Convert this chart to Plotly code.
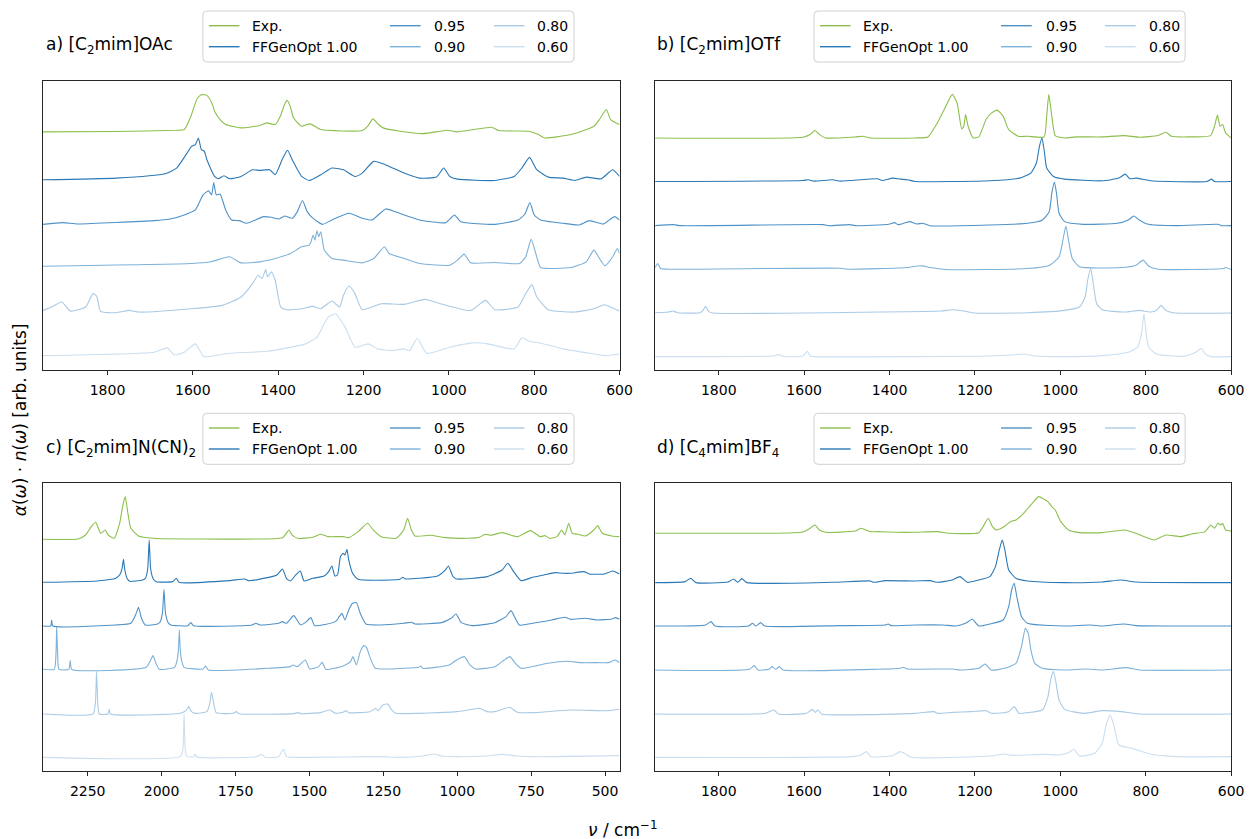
import plotly.graph_objects as go

W, H = 1257, 839
FONT = "DejaVu Sans"

# ---------------- labels / styling ----------------
SERIES_LABELS = ["Exp.", "FFGenOpt 1.00", "0.95", "0.90", "0.80", "0.60"]
SERIES_COLORS = ["#8dbf4c", "#2a78b5", "#4f92c8", "#7db1d8", "#a9cae5", "#cbdff0"]
PANEL_TITLES = ["a) [C<sub>2</sub>mim]OAc", "b) [C<sub>2</sub>mim]OTf",
                "c) [C<sub>2</sub>mim]N(CN)<sub>2</sub>", "d) [C<sub>4</sub>mim]BF<sub>4</sub>"]
X_TICKS_AB = [1800, 1600, 1400, 1200, 1000, 800, 600]
X_TICKS_C = [2250, 2000, 1750, 1500, 1250, 1000, 750, 500]
X_RANGE_A = [1951, 600]
X_RANGE_B = [1949, 600]
X_RANGE_C = [2401, 451]
X_RANGE_D = [1949, 600]
OFFSETS_A = [711, 568, 435, 311, 178, 43]
OFFSETS_B = [693, 563, 431, 301, 171, 40]
OFFSETS_C = [695, 566, 435, 305, 171, 41]
OFFSETS_D = [713, 565, 435, 303, 171, 41]
Y_RANGE = [0, 863]

# ---------------- panel a: [C2mim]OAc ----------------
A_EXP_NU = [1951, 1780, 1640, 1620, 1605, 1590, 1580, 1567, 1555, 1549, 1535, 1523, 1487, 1443, 1427, 1407, 1395, 1385, 1379, 1372,
            1365, 1358, 1345, 1325, 1300, 1203, 1190, 1178, 1165, 1154, 1114, 1060, 1003, 981, 900, 883, 812, 790, 776, 714,
            660, 647, 631, 621, 600]
A_EXP_I = [0, 1, 5, 7, 45, 99, 111, 109, 85, 62, 35, 22, 12, 19, 27, 22, 47, 82, 94, 77,
           45, 32, 17, 24, 7, 4, 17, 39, 22, 12, 2, -5, 5, 0, 14, 4, 2, -8, -18, -8,
           17, 37, 67, 37, 22]
A_100_NU = [1951, 1780, 1665, 1638, 1616, 1603, 1594, 1587, 1580, 1573, 1567, 1549, 1540, 1527, 1514, 1487, 1460, 1443, 1420, 1407,
            1389, 1378, 1367, 1345, 1327, 1300, 1274, 1247, 1220, 1203, 1176, 1149, 1105, 1069, 1029, 1012, 998, 980, 892, 847,
            829, 811, 794, 767, 732, 705, 678, 643, 616, 600]
A_100_I = [0, 5, 18, 35, 75, 100, 105, 125, 90, 85, 60, 10, 3, 12, 3, 10, 30, 28, 30, 15,
           65, 88, 60, 10, -2, 15, 35, 30, 10, 20, 55, 45, 20, 5, 8, 35, 10, 2, -2, 10,
           35, 67, 30, 8, 5, -2, 8, 3, 30, 10]
A_095_NU = [1951, 1905, 1869, 1691, 1656, 1620, 1594, 1576, 1563, 1556, 1551, 1545, 1536, 1523, 1509, 1491, 1474, 1434, 1416, 1398,
            1385, 1367, 1355, 1343, 1332, 1318, 1296, 1274, 1234, 1203, 1180, 1148, 1127, 1069, 1007, 987, 972, 892, 838, 822,
            810, 800, 785, 732, 696, 670, 638, 612, 600]
A_095_I = [0, 5, 1, 11, 15, 28, 43, 88, 100, 88, 125, 88, 90, 43, 13, 11, 3, 23, 21, 16,
           25, 18, 38, 71, 38, 18, 0, 13, 33, 18, 13, 46, 38, 13, 5, 28, 8, 0, 13, 30,
           65, 28, 13, 3, -2, 11, 1, 23, 13]
A_090_NU = [1951, 1603, 1558, 1514, 1487, 1443, 1407, 1371, 1345, 1327, 1323, 1318, 1314, 1309, 1305, 1300, 1292, 1274, 1247, 1203,
            1176, 1151, 1140, 1105, 1069, 998, 980, 964, 949, 892, 834, 820, 807, 794, 785, 714, 678, 660, 647, 634,
            616, 605, 600]
A_090_I = [-1, 7, 12, 27, 9, 12, 22, 37, 57, 62, 72, 92, 77, 105, 87, 102, 47, 22, 17, 9,
           22, 57, 37, 22, 7, 2, 17, 35, 9, 10, 7, 27, 79, 27, -5, -5, 12, 47, 22, 0,
           27, 52, 37]
A_080_NU = [1951, 1931, 1907, 1887, 1851, 1834, 1825, 1816, 1780, 1749, 1727, 1603, 1531, 1487, 1460, 1447, 1438, 1429, 1425, 1416,
            1407, 1394, 1380, 1345, 1318, 1300, 1274, 1256, 1247, 1234, 1220, 1203, 1158, 1105, 1056, 1025, 949, 914, 892, 838,
            820, 805, 794, 767, 705, 660, 635, 616, 600]
A_080_I = [0, 10, 25, -2, 10, 50, 42, -3, -7, 0, -5, 5, 15, 40, 80, 105, 95, 122, 100, 115,
           90, 10, 2, 5, 12, 5, 28, 10, 45, 73, 50, 2, 20, 18, 33, 22, 0, 30, 2, 10,
           50, 77, 40, 2, -5, 5, 17, 7, -2]
A_060_NU = [1951, 1691, 1660, 1643, 1620, 1594, 1574, 1514, 1425, 1336, 1309, 1283, 1265, 1256, 1243, 1220, 1189, 1167, 1132, 1105,
            1092, 1074, 1052, 998, 945, 909, 847, 829, 811, 794, 732, 670, 634, 600]
A_060_I = [0, 10, 23, 2, 10, 35, -3, 7, 13, 35, 55, 115, 125, 110, 85, 25, 35, 20, 15, 20,
           15, 52, 7, 25, 38, 35, 20, 53, 42, 40, 20, 7, 0, 5]

# ---------------- panel b: [C2mim]OTf ----------------
B_EXP_NU = [1949, 1603, 1586, 1575, 1564, 1550, 1480, 1463, 1445, 1340, 1310, 1288, 1270, 1253, 1242, 1231, 1226, 1222, 1216, 1204,
            1191, 1174, 1161, 1148, 1134, 1121, 1099, 1077, 1038, 1032, 1027, 1020, 1012, 990, 964, 902, 850, 815, 771, 753,
            740, 701, 648, 639, 632, 626, 620, 613, 600]
B_EXP_I = [0, 2, 10, 22, 10, 0, 3, 5, 0, 0, 3, 45, 90, 130, 105, 27, 35, 70, 35, 0,
           3, 55, 75, 83, 65, 25, 5, 5, 3, 65, 130, 65, 7, 0, 3, 3, 7, 2, 7, 17,
           5, 3, 7, 35, 68, 35, 40, 15, 0]
B_100_NU = [1949, 1603, 1590, 1577, 1533, 1515, 1428, 1417, 1393, 1375, 1358, 1340, 1165, 1095, 1069, 1056, 1049, 1043, 1037, 1032,
            1016, 990, 902, 863, 848, 837, 823, 788, 657, 646, 639, 600]
B_100_I = [0, 3, 5, 1, 5, 1, 8, 3, 10, 7, 5, 0, 2, 10, 25, 55, 105, 130, 85, 40,
           15, 7, 2, 10, 22, 8, 10, 2, 0, 7, 0, 0]
B_095_NU = [1949, 1905, 1892, 1555, 1542, 1494, 1480, 1402, 1388, 1380, 1353, 1336, 1323, 1305, 1165, 1077, 1042, 1026, 1020, 1014,
            1009, 1003, 990, 946, 867, 841, 828, 815, 797, 727, 631, 622, 600]
B_095_I = [0, 3, 0, 3, 0, 3, 0, 4, 9, 3, 12, 5, 7, 0, 2, 7, 17, 42, 97, 130,
           97, 37, 12, 4, 7, 17, 29, 17, 5, 0, 4, 0, 0]
B_090_NU = [1949, 1943, 1936, 1918, 1515, 1498, 1358, 1340, 1323, 1305, 1288, 1270, 1077, 1025, 1003, 994, 987, 981, 972, 955,
            858, 823, 806, 793, 771, 618, 613, 600]
B_090_I = [5, 17, 2, 0, 3, 0, 5, 9, 10, 5, 2, -1, 2, 12, 37, 87, 129, 87, 32, 7,
           5, 12, 27, 9, 0, 2, 5, -1]
B_080_NU = [1949, 1918, 1908, 1896, 1844, 1837, 1831, 1824, 1813, 1428, 1279, 1253, 1226, 1200, 1077, 990, 955, 942, 936, 929,
            924, 915, 902, 850, 815, 788, 775, 764, 753, 736, 600]
B_080_I = [0, 2, 5, 0, 0, 7, 19, 4, -1, 2, 5, 9, 5, -1, 0, 7, 17, 47, 97, 132,
           97, 27, 9, 2, 7, 2, 7, 22, 7, 0, -1]
B_060_NU = [1949, 1673, 1660, 1647, 1603, 1592, 1586, 1577, 1165, 1112, 1086, 1060, 990, 902, 841, 819, 810, 804, 799, 793,
            775, 710, 683, 670, 661, 648, 600]
B_060_I = [0, 2, 6, 0, 2, 16, 2, 0, 2, 5, 8, 2, 0, 3, 13, 28, 68, 128, 68, 28,
           8, 1, 13, 25, 8, 0, 0]

# ---------------- panel c: [C2mim]N(CN)2 ----------------
C_EXP_NU = [2401, 2283, 2257, 2238, 2223, 2206, 2191, 2181, 2161, 2142, 2132, 2123, 2114, 2104, 2078, 2027, 1899, 1591, 1578, 1569,
            1559, 1540, 1489, 1463, 1437, 1386, 1367, 1335, 1303, 1284, 1258, 1207, 1181, 1168, 1155, 1143, 1091, 1040, 963, 925,
            906, 886, 848, 797, 752, 720, 703, 688, 662, 647, 636, 623, 611, 592, 566, 538, 525, 509, 477, 451]
C_EXP_I = [0, 1, 13, 38, 51, 18, 28, 13, 3, 48, 98, 128, 78, 33, 10, 3, 1, 5, 18, 28,
           13, 3, 6, 15, 8, 8, 5, 23, 48, 28, 8, 3, 28, 63, 28, 10, 12, 5, 3, 6,
           15, 12, 20, 8, 26, 8, 11, 3, 8, 28, 13, 48, 18, 15, 10, 28, 41, 18, 10, 8]
C_100_NU = [2401, 2219, 2155, 2140, 2133, 2129, 2125, 2117, 2108, 2065, 2055, 2047, 2042, 2037, 2028, 2018, 1963, 1950, 1941, 1771,
            1719, 1706, 1642, 1610, 1591, 1578, 1565, 1546, 1531, 1518, 1489, 1450, 1435, 1424, 1414, 1405, 1395, 1386, 1380, 1373,
            1367, 1354, 1335, 1194, 1184, 1175, 1130, 1066, 1040, 1030, 1014, 1002, 899, 848, 829, 809, 784, 745, 707, 669,
            643, 617, 572, 553, 502, 474, 451]
C_100_I = [0, 4, 12, 25, 45, 69, 40, 12, 3, 7, 12, 40, 127, 40, 10, 2, 2, 12, 0, 5,
           10, 5, 14, 22, 40, 12, 4, 22, 34, 4, 12, 19, 32, 49, 19, 22, 77, 87, 82, 99,
           67, 27, 9, 9, 15, 10, 12, 19, 37, 49, 17, 10, 17, 37, 57, 32, 5, 15, 22, 29,
           27, 27, 32, 25, 25, 34, 25]
C_095_NU = [2401, 2375, 2372, 2368, 2155, 2104, 2088, 2078, 2068, 2055, 2014, 2005, 1997, 1992, 1987, 1978, 1969, 1911, 1901, 1892,
            1694, 1681, 1668, 1604, 1591, 1578, 1553, 1530, 1514, 1495, 1482, 1412, 1399, 1390, 1380, 1367, 1354, 1341, 1328, 1309,
            1258, 1181, 1155, 1143, 1053, 1021, 1004, 986, 950, 873, 835, 818, 790, 745, 681, 636, 617, 566, 528, 477,
            464, 451]
C_095_I = [0, 0, 18, 0, 3, 8, 33, 56, 23, 3, 6, 12, 40, 110, 40, 10, 3, 1, 10, 1,
           3, 8, 3, 8, 13, 8, 31, 3, 10, 25, 1, 13, 28, 38, 18, 48, 68, 70, 38, 6,
           3, 8, 11, 6, 10, 23, 36, 10, 1, 10, 28, 46, 3, 8, 18, 26, 20, 23, 18, 21,
           25, 20]
C_090_NU = [2401, 2363, 2357, 2355, 2352, 2347, 2314, 2309, 2304, 2052, 2037, 2029, 2019, 2008, 1956, 1948, 1943, 1940, 1937, 1932,
            1924, 1860, 1851, 1842, 1642, 1565, 1555, 1540, 1514, 1499, 1469, 1457, 1444, 1386, 1361, 1353, 1341, 1328, 1316, 1307,
            1296, 1277, 1181, 1130, 1123, 1117, 1027, 1002, 976, 957, 938, 873, 841, 822, 803, 784, 694, 630, 579, 528,
            489, 466, 451]
C_090_I = [0, 0, 53, 128, 53, 0, 0, 26, 0, 6, 28, 41, 18, 0, 6, 25, 60, 118, 60, 25,
           6, 1, 10, -2, 3, 8, 13, 8, 28, 1, 8, 21, 0, 10, 23, 38, 13, 53, 71, 66,
           38, 3, 3, 6, 10, 3, 13, 28, 38, 13, 1, 8, 28, 38, 18, 3, 18, 24, 20, 20,
           20, 28, 20]
C_080_NU = [2401, 2232, 2224, 2220, 2216, 2211, 2181, 2177, 2173, 1937, 1918, 1908, 1899, 1886, 1847, 1837, 1831, 1824, 1815, 1758,
            1747, 1738, 1553, 1540, 1527, 1463, 1431, 1412, 1386, 1376, 1367, 1296, 1277, 1267, 1252, 1235, 1222, 1207, 1130, 1066,
            1002, 950, 925, 899, 873, 822, 797, 745, 617, 489, 451]
C_080_I = [0, 0, 32, 129, 32, 0, 0, 14, 0, 2, 10, 22, 7, 2, 7, 32, 65, 32, 4, 2,
           7, 1, 1, 4, 1, 4, 12, 2, 5, 10, 4, 7, 16, 10, 27, 30, 12, 2, 2, 4,
           7, 14, 17, 7, 7, 20, 5, 4, 12, 10, 14]
C_060_NU = [2401, 1937, 1928, 1924, 1920, 1914, 1892, 1886, 1881, 1681, 1662, 1649, 1604, 1594, 1587, 1578, 1514, 1258, 1194, 1117,
            1079, 1053, 1002, 899, 848, 797, 745, 451]
C_060_I = [0, 2, 22, 130, 22, 2, 2, 9, 1, 2, 9, 0, 2, 17, 24, 2, 0, 2, 0, 4,
           10, 4, 2, 4, 9, 4, 2, 5]

# ---------------- panel d: [C4mim]BF4 ----------------
D_EXP_NU = [1949, 1691, 1603, 1586, 1575, 1564, 1550, 1480, 1467, 1445, 1428, 1384, 1340, 1288, 1261, 1191, 1181, 1169, 1159, 1150,
            1134, 1117, 1104, 1086, 1069, 1051, 1038, 1029, 1020, 1012, 999, 981, 955, 902, 850, 823, 780, 753, 718, 692,
            661, 648, 639, 631, 624, 620, 613, 600]
D_EXP_I = [0, 0, 4, 15, 25, 10, 3, 7, 15, 5, 5, 3, 3, 5, 0, 2, 20, 45, 20, 10,
           18, 35, 40, 60, 85, 110, 102, 95, 80, 70, 35, 10, 2, 2, 10, 0, -20, -5, -10, -2,
           5, 25, 15, 30, 25, 30, 10, 7]
D_100_NU = [1949, 1879, 1866, 1853, 1778, 1765, 1756, 1746, 1734, 1533, 1445, 1437, 1410, 1340, 1305, 1288, 1253, 1235, 1218, 1191,
            1165, 1152, 1143, 1136, 1130, 1121, 1104, 1077, 990, 902, 858, 823, 600]
D_100_I = [0, 3, 13, 0, 2, 11, 1, 12, 0, 1, 5, 1, 6, 5, 6, 1, 8, 18, 1, 8,
           18, 48, 98, 128, 98, 38, 13, 5, 0, 2, 8, 2, 0]
D_095_NU = [1949, 1831, 1818, 1809, 1730, 1721, 1713, 1702, 1692, 1515, 1410, 1403, 1396, 1340, 1275, 1244, 1222, 1206, 1191, 1165,
            1134, 1121, 1114, 1108, 1102, 1091, 1077, 990, 929, 902, 850, 823, 600]
D_095_I = [0, 3, 13, 0, 0, 8, 0, 10, 0, 1, 3, 6, 1, 3, 3, 0, 8, 20, 0, 6,
           18, 58, 108, 128, 88, 28, 8, 0, 3, 0, 6, 1, 0]
D_090_NU = [1949, 1728, 1717, 1708, 1682, 1675, 1667, 1658, 1649, 1428, 1375, 1368, 1358, 1253, 1235, 1191, 1176, 1162, 1130, 1104,
            1091, 1082, 1075, 1069, 1060, 1042, 990, 937, 902, 845, 815, 600]
D_090_I = [0, 2, 13, 0, 2, 10, 2, 10, 0, 2, 5, 8, 3, 3, 0, 5, 18, 0, 5, 20,
           70, 125, 110, 60, 20, 5, 0, 3, 0, 7, 0, 0]
D_080_NU = [1949, 1691, 1671, 1660, 1594, 1581, 1574, 1568, 1559, 1340, 1296, 1288, 1253, 1209, 1174, 1161, 1121, 1108, 1097, 1077,
            1042, 1029, 1022, 1016, 1010, 1003, 990, 946, 902, 858, 815, 600]
D_080_I = [0, 2, 12, 0, 2, 14, 5, 12, 0, 2, 7, 2, 5, 7, 10, 2, 7, 22, 2, 4,
           12, 52, 107, 127, 92, 42, 14, 2, 10, 7, 0, 0]
D_060_NU = [1949, 1489, 1467, 1454, 1444, 1393, 1375, 1365, 1349, 1165, 1130, 1112, 1034, 1007, 981, 968, 955, 920, 902, 892,
            883, 874, 863, 832, 788, 727, 600]
D_060_I = [0, 2, 7, 17, 2, 5, 17, 12, 0, 4, 10, 6, 9, 7, 14, 24, 4, 12, 42, 102,
           127, 92, 37, 27, 9, 2, 2]

PANELS = [
    ("x", "y", OFFSETS_A, [(A_EXP_NU, A_EXP_I), (A_100_NU, A_100_I), (A_095_NU, A_095_I),
                          (A_090_NU, A_090_I), (A_080_NU, A_080_I), (A_060_NU, A_060_I)]),
    ("x2", "y2", OFFSETS_B, [(B_EXP_NU, B_EXP_I), (B_100_NU, B_100_I), (B_095_NU, B_095_I),
                            (B_090_NU, B_090_I), (B_080_NU, B_080_I), (B_060_NU, B_060_I)]),
    ("x3", "y3", OFFSETS_C, [(C_EXP_NU, C_EXP_I), (C_100_NU, C_100_I), (C_095_NU, C_095_I),
                            (C_090_NU, C_090_I), (C_080_NU, C_080_I), (C_060_NU, C_060_I)]),
    ("x4", "y4", OFFSETS_D, [(D_EXP_NU, D_EXP_I), (D_100_NU, D_100_I), (D_095_NU, D_095_I),
                            (D_090_NU, D_090_I), (D_080_NU, D_080_I), (D_060_NU, D_060_I)]),
]

# panel boxes in pixels: (left, top, right, bottom)
BOXES = [(43.5, 81, 626, 370), (662, 81, 1244, 370), (43.5, 483.3, 626, 771), (662, 483.3, 1244, 771)]


def fx(px):
    return px / W


def fy(py):
    return 1 - py / H


fig = go.Figure()

for (xa, ya, offs, series) in PANELS:
    for k, (nu, inten) in enumerate(series):
        fig.add_trace(go.Scatter(
            x=nu, y=[offs[k] + v for v in inten], mode="lines",
            line=dict(color=SERIES_COLORS[k], width=1.1, shape="spline", smoothing=0.5),
            name=SERIES_LABELS[k], showlegend=False, xaxis=xa, yaxis=ya,
            hoverinfo="skip"))

axis_common = dict(showline=True, mirror=True, linecolor="#262626", linewidth=1,
                   showgrid=False, zeroline=False)
x_ranges = [X_RANGE_A, X_RANGE_B, X_RANGE_C, X_RANGE_D]
x_ticks = [X_TICKS_AB, X_TICKS_AB, X_TICKS_C, X_TICKS_AB]
layout_axes = {}
for i, (l, t, r, b) in enumerate(BOXES):
    sfx = "" if i == 0 else str(i + 1)
    layout_axes["xaxis" + sfx] = dict(
        domain=[fx(l), fx(r)], range=x_ranges[i], anchor="y" + sfx,
        tickmode="array", tickvals=x_ticks[i], ticktext=[str(v) for v in x_ticks[i]],
        ticks="outside", ticklen=4, tickwidth=1, tickcolor="#262626", ticklabelstandoff=3,
        tickfont=dict(family=FONT, size=14, color="black"), **axis_common)
    layout_axes["yaxis" + sfx] = dict(
        domain=[fy(b), fy(t)], range=Y_RANGE, anchor="x" + sfx,
        showticklabels=False, ticks="", **axis_common)

shapes = []
annotations = []

# titles
TITLE_POS = [(44, 46), (662, 46), (44, 448.3), (662, 448.3)]
for (px, py), txt in zip(TITLE_POS, PANEL_TITLES):
    annotations.append(dict(text=txt, x=fx(px), y=fy(py), xref="paper", yref="paper",
                            xanchor="left", yanchor="middle", showarrow=False,
                            font=dict(family=FONT, size=17, color="black")))

# legends (drawn as boxes, line samples and texts)
LEGEND_POS = [(205, 11), (822.5, 11), (205, 413.3), (822.5, 413.3)]
LEG_W, LEG_H, RAD = 375, 51, 4
COLS = [(6, 37, 48), (189, 220, 232), (294, 325, 336)]
ROWS = [14.7, 35.7]
for (x0, y0) in LEGEND_POS:
    x1, y1 = x0 + LEG_W, y0 + LEG_H
    path = (f"M {fx(x0+RAD)},{fy(y0)} L {fx(x1-RAD)},{fy(y0)} Q {fx(x1)},{fy(y0)} {fx(x1)},{fy(y0+RAD)} "
            f"L {fx(x1)},{fy(y1-RAD)} Q {fx(x1)},{fy(y1)} {fx(x1-RAD)},{fy(y1)} "
            f"L {fx(x0+RAD)},{fy(y1)} Q {fx(x0)},{fy(y1)} {fx(x0)},{fy(y1-RAD)} "
            f"L {fx(x0)},{fy(y0+RAD)} Q {fx(x0)},{fy(y0)} {fx(x0+RAD)},{fy(y0)} Z")
    shapes.append(dict(type="path", path=path, xref="paper", yref="paper",
                       fillcolor="rgba(255,255,255,0.8)", line=dict(color="#d0d0d0", width=1)))
    for k, lab in enumerate(SERIES_LABELS):
        c, r = k // 2, k % 2
        la, lb, tx = COLS[c]
        yy = y0 + ROWS[r]
        shapes.append(dict(type="line", xref="paper", yref="paper",
                           x0=fx(x0 + la), x1=fx(x0 + lb), y0=fy(yy), y1=fy(yy),
                           line=dict(color=SERIES_COLORS[k], width=1.4)))
        annotations.append(dict(text=lab, x=fx(x0 + tx), y=fy(yy), xref="paper", yref="paper",
                                xanchor="left", yanchor="middle", showarrow=False,
                                font=dict(family=FONT, size=14, color="black")))

# shared axis labels
annotations.append(dict(text="<i>ν</i> / cm<sup>−1</sup>", x=fx(628.5), y=fy(829),
                        xref="paper", yref="paper", xanchor="center", yanchor="middle",
                        showarrow=False, font=dict(family=FONT, size=17, color="black")))
annotations.append(dict(text="<i>α</i>(<i>ω</i>) · <i>n</i>(<i>ω</i>) [arb. units]",
                        x=fx(20), y=fy(419.5), xref="paper", yref="paper",
                        xanchor="center", yanchor="middle", textangle=-90,
                        showarrow=False, font=dict(family=FONT, size=17, color="black")))

fig.update_layout(
    width=W, height=H, margin=dict(l=0, r=0, t=0, b=0),
    paper_bgcolor="white", plot_bgcolor="white",
    showlegend=False, shapes=shapes, annotations=annotations,
    font=dict(family=FONT), **layout_axes)

fig.write_html("out.html")
